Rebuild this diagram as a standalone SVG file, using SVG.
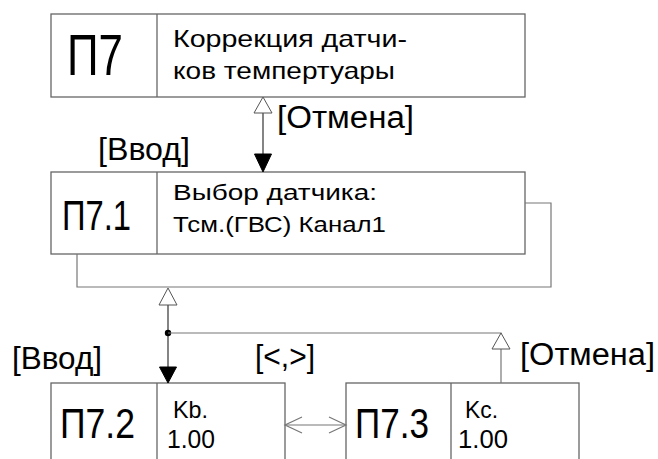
<svg xmlns="http://www.w3.org/2000/svg" width="658" height="459" viewBox="0 0 658 459">
<style>
.box{fill:#fff;stroke:#666;stroke-width:1.3}
.div{stroke:#666;stroke-width:1.3}
.c{fill:none;stroke:#777;stroke-width:1.2}
.ak{fill:none;stroke:#333;stroke-width:1.2}
.open{fill:#fff;stroke:#555;stroke-width:1}
.solid{fill:#000;stroke:#000;stroke-width:1}
text{font-family:"Liberation Sans","DejaVu Sans",sans-serif;fill:#000}
.big{font-size:58px}
.mid{font-size:42px}
.t{font-size:24px}
.s{font-size:22px}
.k{font-size:24px}
.n{font-size:25px}
.lab{font-size:31px}
</style>
<rect width="658" height="459" fill="#fff"/>
<g id="P7">
<rect class="box" x="51" y="14" width="474" height="83"/>
<line class="div" x1="157" y1="14" x2="157" y2="97"/>
<text class="big" x="67" y="75" textLength="56" lengthAdjust="spacingAndGlyphs">П7</text>
<text class="t" x="173" y="47" textLength="234" lengthAdjust="spacingAndGlyphs">Коррекция датчи-</text>
<text class="t" x="173" y="79" textLength="222" lengthAdjust="spacingAndGlyphs">ков темпертуары</text>
</g>
<g id="P7_1">
<rect class="box" x="51" y="172" width="474" height="82"/>
<line class="div" x1="157" y1="172" x2="157" y2="254"/>
<text class="mid" x="62" y="230" textLength="69" lengthAdjust="spacingAndGlyphs">П7.1</text>
<text class="s" x="173" y="200" textLength="204" lengthAdjust="spacingAndGlyphs">Выбор датчика:</text>
<text class="s" x="173" y="232" textLength="213" lengthAdjust="spacingAndGlyphs">Тсм.(ГВС) Канал1</text>
</g>
<g id="P7_2">
<rect class="box" x="51" y="383" width="234" height="90"/>
<line class="div" x1="157" y1="383" x2="157" y2="473"/>
<text class="mid" x="60" y="438" textLength="75" lengthAdjust="spacingAndGlyphs">П7.2</text>
<text class="k" x="173" y="418" textLength="35" lengthAdjust="spacingAndGlyphs">Kb.</text>
<text class="n" x="167" y="448" textLength="48" lengthAdjust="spacingAndGlyphs">1.00</text>
</g>
<g id="P7_3">
<rect class="box" x="346" y="383" width="233" height="90"/>
<line class="div" x1="451" y1="383" x2="451" y2="473"/>
<text class="mid" x="355" y="438" textLength="74" lengthAdjust="spacingAndGlyphs">П7.3</text>
<text class="k" x="465" y="418" textLength="33" lengthAdjust="spacingAndGlyphs">Kc.</text>
<text class="n" x="458" y="448" textLength="50" lengthAdjust="spacingAndGlyphs">1.00</text>
</g>
<g id="connectors">
<line class="ak" x1="263" y1="113" x2="263" y2="154"/>
<polygon class="open" points="263,97 254,113 272,113"/>
<polygon class="solid" points="263,172 254.5,154 271.5,154"/>
<polyline class="c" points="525,203 551,203 551,287 77,287 77,254"/>
<line class="ak" x1="168" y1="305" x2="168" y2="367"/>
<polygon class="open" points="168,288 159,305 177,305"/>
<polygon class="solid" points="168,383 159.5,367 176.5,367"/>
<circle cx="168" cy="333" r="3.2" fill="#000"/>
<polyline class="c" points="168,333 501,333 501,349"/>
<line class="c" x1="501" y1="349" x2="501" y2="383"/>
<polygon class="open" points="501,333 492,349 510,349"/>
<line class="c" x1="285" y1="425" x2="346" y2="425"/>
<polyline class="c" points="302,417 285,425 302,433"/>
<polyline class="c" points="329,417 346,425 329,433"/>
<text class="lab" x="277" y="128" textLength="137" lengthAdjust="spacingAndGlyphs">[Отмена]</text>
<text class="lab" x="98" y="160" textLength="92" lengthAdjust="spacingAndGlyphs">[Ввод]</text>
<text class="lab" x="12" y="369" textLength="90" lengthAdjust="spacingAndGlyphs">[Ввод]</text>
<text class="lab" x="255" y="367" textLength="60" lengthAdjust="spacingAndGlyphs">[&lt;,&gt;]</text>
<text class="lab" x="520" y="365" textLength="135" lengthAdjust="spacingAndGlyphs">[Отмена]</text>
</g>
</svg>
